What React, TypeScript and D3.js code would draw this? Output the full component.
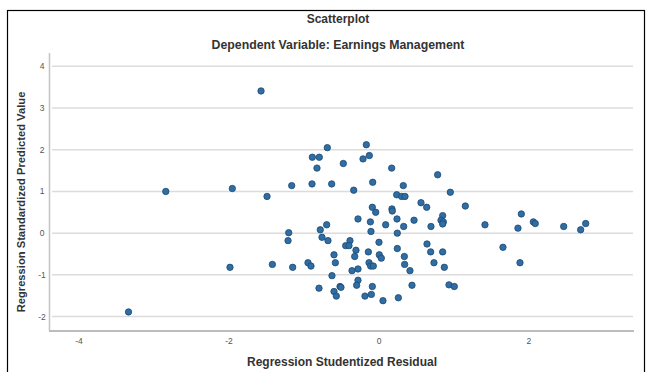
import * as d3 from "d3";

// residual (x) and predicted value (y)
const residuals = [
  -2.843, -3.34, -1.573, -1.956, -1.493, -1.164, -0.889, -0.796, -0.689, -0.827,
  -0.893, -0.631, -0.476, -0.337, -0.169, -0.213, -0.129, -0.084, 0.169, 0.324,
  0.236, 0.302, 0.347, 0.782, 0.951, 0.56, -0.089, -0.044, 0.173, 0.177,
  -0.28, -0.115, 0.089, 0.24, 0.329, 0.467, -0.698, -0.783, -1.204, -1.213,
  -0.76, -0.68, -0.107, 0.244, 0.0, -0.387, -0.444, -0.4, -0.307, -0.6,
  -0.324, -0.142, 0.004, 0.031, 0.244, 0.338, -0.582, -0.947, -0.907, -1.151,
  -1.422, -1.987, -0.133, -0.111, -0.076, -0.28, -0.36, 0.342, 0.413, -0.627,
  -0.28, -0.298, -0.089, 0.44, -0.8, -0.52, -0.507, -0.6, -0.569, -0.187,
  -0.102, 0.053, 0.258, 0.636, 1.151, 0.849, 0.827, 0.858, 0.849, 0.693,
  1.413, 1.898, 1.853, 2.058, 2.084, 2.463, 2.689, 2.756, 0.64, 0.689,
  0.849, 0.733, 0.871, 1.653, 1.88, 0.933, 1.004,
];
const predicted = [
  1.0, -1.89, 3.41, 1.07, 0.88, 1.14, 1.82, 1.82, 2.05, 1.56,
  1.18, 1.18, 1.67, 1.03, 2.12, 1.78, 1.86, 1.22, 1.56, 1.14,
  0.92, 0.88, 0.88, 1.4, 0.98, 0.73, 0.62, 0.5, 0.58, 0.53,
  0.34, 0.27, 0.2, 0.34, 0.16, 0.31, 0.2, 0.08, 0.01, -0.18,
  -0.1, -0.18, 0.04, 0.0, -0.22, -0.18, -0.3, -0.3, -0.41, -0.52,
  -0.56, -0.45, -0.52, -0.6, -0.37, -0.56, -0.71, -0.71, -0.79, -0.82,
  -0.75, -0.82, -0.71, -0.79, -0.79, -0.86, -0.9, -0.75, -0.9, -1.02,
  -1.13, -1.25, -1.28, -1.25, -1.32, -1.28, -1.3, -1.4, -1.51, -1.51,
  -1.47, -1.62, -1.55, 0.62, 0.65, 0.42, 0.31, 0.27, 0.22, 0.16,
  0.2, 0.46, 0.12, 0.27, 0.23, 0.16, 0.08, 0.23, -0.26, -0.45,
  -0.45, -0.71, -0.82, -0.34, -0.71, -1.24, -1.28,
];
const xTicks = [-4, -2, 0, 2];
const yTicks = [-2, -1, 0, 1, 2, 3, 4];

const W = 649;
const H = 372;
const font = "'Liberation Sans', Arial, sans-serif";

export default function App() {
  const x = d3.scaleLinear().domain([-4.387, 3.387]).range([50, 633]);
  const y = d3.scaleLinear().domain([-2.34, 4.32]).range([330.7, 53]);
  const pts = residuals.map((r, i) => ({ r, p: predicted[i] }));

  return (
    <svg
      width={W}
      height={H}
      style={{ position: "absolute", left: 0, top: 0, background: "#fff" }}
    >
      {/* outer frame */}
      <rect x={7.5} y={10.5} width={637} height={380} fill="none" stroke="#000" strokeWidth={1.2} />

      <text x={338} y={23} textAnchor="middle" fontFamily={font} fontSize={12} fontWeight="bold" fill="#333">
        Scatterplot
      </text>
      <text x={338} y={49} textAnchor="middle" fontFamily={font} fontSize={12.3} fontWeight="bold" fill="#333">
        Dependent Variable: Earnings Management
      </text>

      {/* gridlines */}
      {yTicks.map((t) => (
        <line key={t} x1={52} x2={633} y1={y(t)} y2={y(t)} stroke="#dcdcdc" strokeWidth={1.5} />
      ))}

      {/* axes */}
      <line x1={49.5} x2={49.5} y1={53} y2={331} stroke="#c4c4c4" strokeWidth={1.5} />
      <line x1={49} x2={634} y1={331} y2={331} stroke="#bdbdbd" strokeWidth={2.2} />

      {yTicks.map((t) => (
        <text key={t} x={42} y={y(t) + 3} textAnchor="middle" fontFamily={font} fontSize={8.5} fill="#555">
          {t}
        </text>
      ))}
      {xTicks.map((t) => (
        <text key={t} x={x(t)} y={344} textAnchor="middle" fontFamily={font} fontSize={8.5} fill="#555">
          {t}
        </text>
      ))}

      <text x={342} y={366} textAnchor="middle" fontFamily={font} fontSize={12} fontWeight="bold" fill="#333">
        Regression Studentized Residual
      </text>
      <text
        transform={`translate(25,202) rotate(-90)`}
        textAnchor="middle"
        fontFamily={font}
        fontSize={11.2}
        fontWeight="bold"
        fill="#333"
      >
        Regression Standardized Predicted Value
      </text>

      {pts.map((d, i) => (
        <circle key={i} cx={x(d.r)} cy={y(d.p)} r={3.2} fill="#2f6da3" stroke="#1c4a73" strokeWidth={0.8} />
      ))}
    </svg>
  );
}
